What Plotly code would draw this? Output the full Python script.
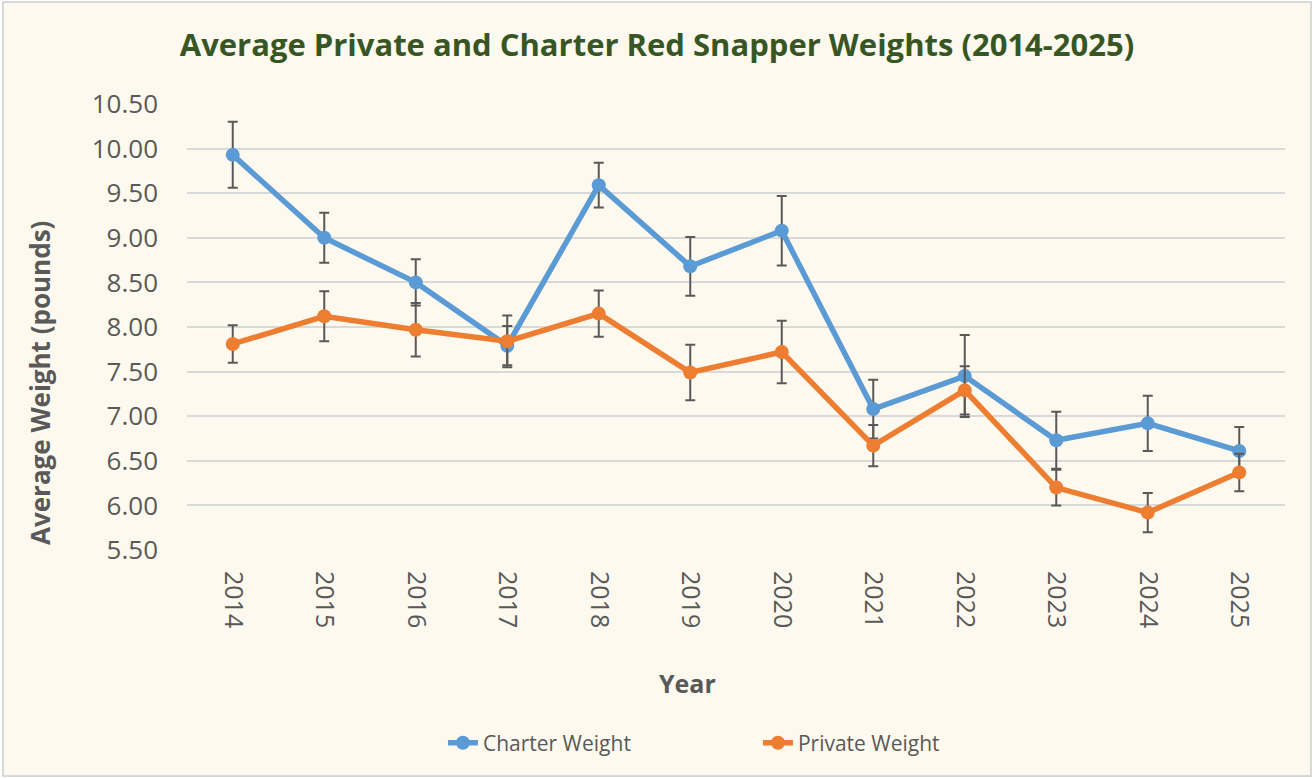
import plotly.graph_objects as go

years = ["2014", "2015", "2016", "2017", "2018", "2019", "2020", "2021", "2022", "2023", "2024", "2025"]
charter = [9.93, 9.00, 8.50, 7.79, 9.59, 8.68, 9.08, 7.08, 7.45, 6.73, 6.92, 6.61]
charter_err = [0.37, 0.28, 0.26, 0.22, 0.25, 0.33, 0.39, 0.33, 0.46, 0.32, 0.31, 0.27]
private = [7.81, 8.12, 7.97, 7.84, 8.15, 7.49, 7.72, 6.67, 7.29, 6.20, 5.92, 6.37]
private_err = [0.21, 0.28, 0.30, 0.29, 0.26, 0.31, 0.35, 0.23, 0.27, 0.20, 0.22, 0.21]

font_family = "Open Sans, Lato, sans-serif"
err_color = "#595959"
text_color = "#595959"
cream = "#FEF9EE"

fig = go.Figure()
fig.add_trace(go.Scatter(
    x=years, y=charter, name="Charter Weight", mode="lines+markers",
    line=dict(color="#5B9BD5", width=5.5), marker=dict(color="#5B9BD5", size=14),
    error_y=dict(type="data", array=charter_err, visible=True, color=err_color, thickness=2, width=5),
))
fig.add_trace(go.Scatter(
    x=years, y=private, name="Private Weight", mode="lines+markers",
    line=dict(color="#ED7D31", width=5.5), marker=dict(color="#ED7D31", size=14),
    error_y=dict(type="data", array=private_err, visible=True, color=err_color, thickness=2, width=5),
))

fig.update_layout(
    width=1314, height=778,
    paper_bgcolor="#FFFFFF", plot_bgcolor=cream,
    margin=dict(l=187, r=29, t=104, b=228),
    font=dict(family=font_family, color=text_color),
    title=dict(text="<b>Average Private and Charter Red Snapper Weights (2014-2025)</b>",
               x=0.5, xanchor="center", y=0.942, yanchor="middle",
               font=dict(size=31, color="#375623", family=font_family)),
    showlegend=True,
    legend=dict(orientation="h", x=0.2331, xanchor="left", y=-0.433, yanchor="middle",
                font=dict(size=21, color=text_color), entrywidth=270, bgcolor="rgba(0,0,0,0)"),
    shapes=[dict(type="rect", xref="paper", yref="paper", x0=-0.1676, x1=1.0237, y0=-0.5067, y1=1.2287,
                 line=dict(color="#D9D9D9", width=2), fillcolor=cream, layer="below")],
    annotations=[
        dict(text="<b>Average Weight (pounds)</b>", xref="paper", yref="paper", x=-0.1339, y=0.3744,
             xanchor="center", yanchor="middle", textangle=-90, showarrow=False,
             font=dict(size=26, color=text_color, family=font_family)),
        dict(text="<b>Year</b>", xref="paper", yref="paper", x=0.4554, y=-0.298,
             xanchor="center", yanchor="middle", showarrow=False,
             font=dict(size=25, color=text_color, family=font_family)),
    ],
)
fig.update_xaxes(
    type="category", range=[-0.5, 11.5], showgrid=False, zeroline=False, showline=False,
    tickangle=90, tickfont=dict(size=25, color=text_color), ticks="", ticklabelstandoff=20,
)
fig.update_yaxes(
    range=[5.5, 10.5], dtick=0.5, tick0=5.5, tickformat=".2f", showgrid=True, gridcolor="#D9D9D9",
    gridwidth=2, zeroline=False, showline=False, ticks="", ticklabelstandoff=28,
    tickfont=dict(size=26, color=text_color),
)

fig.write_html("out.html", config={"displayModeBar": False},
               post_script="document.body.style.margin='0px';")
